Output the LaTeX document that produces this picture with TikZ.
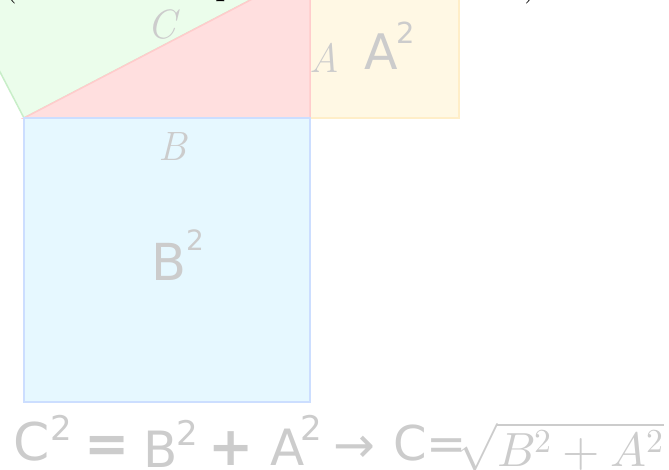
\documentclass[tikz,border=0pt]{standalone}
\usepackage{unicode-math}
\setmathfont{Latin Modern Math}
\newfontfamily\dejavu{DejaVu Sans}
\definecolor{gfill}{RGB}{235,253,235}
\definecolor{gline}{RGB}{200,238,200}
\definecolor{rfill}{RGB}{255,223,223}
\definecolor{rline}{RGB}{255,204,204}
\definecolor{yfill}{RGB}{255,248,228}
\definecolor{yline}{RGB}{255,238,200}
\definecolor{bfill}{RGB}{230,248,255}
\definecolor{bline}{RGB}{204,222,255}
\definecolor{txtgray}{RGB}{204,204,204}
\begin{document}
\begin{tikzpicture}[x=1pt,y=-1pt,
  areabox/.style={line width=1.5pt},
  lbl/.style={inner sep=0pt, text=txtgray},
  sans/.style={lbl, anchor=base west, font=\dejavu\fontsize{#1}{#1}\selectfont},
  sansb/.style={lbl, anchor=base west, font=\dejavu\bfseries\fontsize{#1}{#1}\selectfont},
  ital/.style={lbl, font=\itshape\fontsize{#1}{#1}\selectfont}]
\useasboundingbox (0,0) rectangle (669,469);
\clip (0,0) rectangle (669,469);
% squares and triangle
\filldraw[areabox, fill=gfill, draw=gline] (24,118) -- (310,-31) -- (161,-317) -- (-125,-168) -- cycle;
\filldraw[areabox, fill=yfill, draw=yline] (310,-31) rectangle (459,118);
\filldraw[areabox, fill=rfill, draw=rline] (24,118) -- (310,118) -- (310,-31) -- cycle;
\filldraw[areabox, fill=bfill, draw=bline] (24,118) rectangle (310,402);
% cut-off title
\node[inner sep=0pt, anchor=base west, font=\fontsize{42}{42}\selectfont] (title) at (2,-7) {(\hspace{198pt}p\hspace{288pt})};
% side labels
\node[ital=41] (lc) at (162,24) {C};
\node[ital=41] (la) at (324,58) {A};
\node[ital=41] (lb) at (173,146) {B};
% area labels
\node[sans=49] (asq) at (364,69) {A};
\node[sans=29] (asq2) at (396,43) {2};
\node[sans=51] (bsq) at (151,280) {B};
\node[sans=28] (bsq2) at (186,250) {2};
% equation
\node[sans=52] (e1) at (13,460) {C};
\node[sans=34] (e2) at (50,440) {2};
\node[sansb=54] (e3) at (84,462) {=};
\node[sans=50] (e4) at (143,467) {B};
\node[sans=34] (e5) at (176,445) {2};
\node[sansb=54] (e6) at (208,465) {+};
\node[sans=50] (e7) at (270,465) {A};
\node[sans=34] (e8) at (300,440) {2};
\node[sans=50] (e9) at (333,462) {→};
\node[sans=48] (e10) at (393,460) {C=};
\node[lbl, anchor=base west, font=\fontsize{48}{48}\selectfont] (e11) at (457,466) {$\sqrt{B^2+A^2}$};
\end{tikzpicture}
\end{document}
